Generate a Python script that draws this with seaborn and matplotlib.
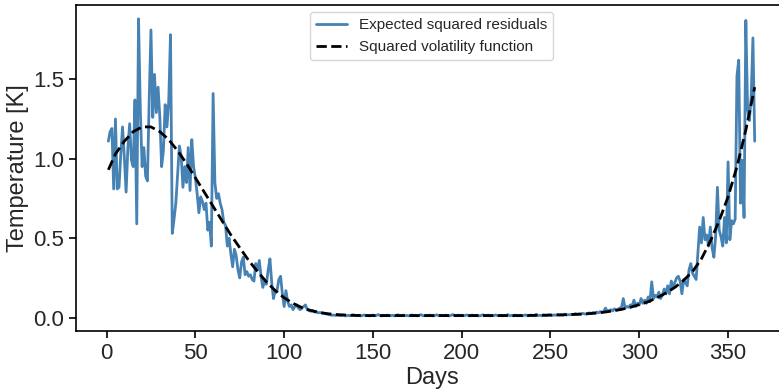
import matplotlib
matplotlib.use("Agg")
import matplotlib.pyplot as plt
import numpy as np
import pandas as pd
import seaborn as sns

sns.set_style("ticks")
plt.rcParams['font.family'] = ['Liberation Sans', 'DejaVu Sans']
NARROW = ['Liberation Sans Narrow', 'Liberation Sans', 'DejaVu Sans']

# expected squared residuals, one value per day (1..365)
residuals_sq = [
    1.11, 1.17, 1.19, 0.81, 1.25, 0.81, 0.82, 1.03, 1.20, 1.01,
    0.79, 1.07, 1.22, 0.99, 0.95, 1.37, 0.59, 1.88, 1.31, 0.95,
    1.07, 0.89, 0.86, 1.37, 1.81, 1.26, 1.53, 1.29, 1.45, 1.26,
    0.95, 1.05, 1.34, 1.20, 1.36, 1.78, 0.53, 0.62, 0.72, 0.90,
    1.08, 1.02, 0.82, 0.95, 0.85, 1.07, 0.80, 1.12, 0.95, 0.88,
    0.78, 0.66, 0.76, 0.73, 0.68, 0.72, 0.55, 0.60, 0.45, 1.41,
    0.85, 0.75, 0.78, 0.72, 0.68, 0.60, 0.58, 0.45, 0.50, 0.40,
    0.32, 0.43, 0.39, 0.30, 0.25, 0.35, 0.38, 0.27, 0.29, 0.26,
    0.27, 0.24, 0.23, 0.34, 0.30, 0.36, 0.26, 0.19, 0.23, 0.21,
    0.30, 0.37, 0.22, 0.12, 0.17, 0.17, 0.24, 0.26, 0.15, 0.07,
    0.17, 0.10, 0.07, 0.08, 0.05, 0.07, 0.08, 0.06, 0.05, 0.06,
    0.07, 0.08, 0.05, 0.045, 0.04, 0.045, 0.035, 0.038, 0.03, 0.032,
    0.03, 0.028, 0.025, 0.022, 0.02, 0.017, 0.015, 0.016, 0.014, 0.015,
    0.014, 0.012, 0.016, 0.013, 0.011, 0.015, 0.012, 0.014, 0.018, 0.013,
    0.012, 0.015, 0.011, 0.013, 0.017, 0.012, 0.014, 0.011, 0.013, 0.016,
    0.012, 0.014, 0.019, 0.013, 0.011, 0.015, 0.012, 0.016, 0.013, 0.012,
    0.015, 0.011, 0.014, 0.018, 0.013, 0.012, 0.016, 0.012, 0.014, 0.011,
    0.013, 0.017, 0.012, 0.015, 0.011, 0.014, 0.019, 0.013, 0.012, 0.015,
    0.012, 0.016, 0.013, 0.011, 0.014, 0.018, 0.012, 0.015, 0.013, 0.012,
    0.016, 0.013, 0.011, 0.015, 0.019, 0.014, 0.012, 0.016, 0.013, 0.015,
    0.012, 0.014, 0.017, 0.011, 0.013, 0.016, 0.012, 0.015, 0.013, 0.011,
    0.014, 0.018, 0.012, 0.013, 0.016, 0.011, 0.014, 0.012, 0.017, 0.013,
    0.012, 0.015, 0.011, 0.014, 0.013, 0.019, 0.012, 0.014, 0.011, 0.016,
    0.013, 0.012, 0.015, 0.011, 0.014, 0.017, 0.012, 0.013, 0.016, 0.012,
    0.014, 0.021, 0.013, 0.015, 0.012, 0.016, 0.014, 0.013, 0.018, 0.015,
    0.014, 0.017, 0.015, 0.020, 0.016, 0.018, 0.015, 0.022, 0.017, 0.019,
    0.018, 0.021, 0.019, 0.025, 0.020, 0.023, 0.021, 0.027, 0.024, 0.022,
    0.026, 0.030, 0.025, 0.032, 0.028, 0.035, 0.030, 0.038, 0.033, 0.040,
    0.060, 0.038, 0.045, 0.050, 0.042, 0.055, 0.048, 0.052, 0.060, 0.065,
    0.120, 0.060, 0.070, 0.065, 0.080, 0.075, 0.110, 0.070, 0.090, 0.080,
    0.120, 0.090, 0.110, 0.090, 0.130, 0.100, 0.225, 0.120, 0.140, 0.130,
    0.160, 0.120, 0.140, 0.180, 0.150, 0.200, 0.150, 0.230, 0.190, 0.220,
    0.25, 0.26, 0.23, 0.15, 0.24, 0.22, 0.20, 0.30, 0.34, 0.28,
    0.26, 0.24, 0.40, 0.57, 0.47, 0.63, 0.49, 0.52, 0.45, 0.57,
    0.44, 0.38, 0.51, 0.82, 0.55, 0.51, 0.45, 0.63, 0.47, 0.98,
    0.49, 0.61, 0.59, 0.62, 1.52, 1.62, 0.72, 0.99, 0.63, 1.87,
    1.31, 1.24, 1.39, 1.76, 1.11,
]
days = list(range(1, 366))

# squared volatility function, sampled every 5 days
vol_days = [1] + list(range(5, 366, 5))
vol_sq = [
    0.93, 1.03, 1.11, 1.17, 1.20, 1.20, 1.17, 1.12, 1.05, 0.97,
    0.88, 0.79, 0.70, 0.61, 0.52, 0.44, 0.36, 0.29, 0.225, 0.17,
    0.125, 0.09, 0.063, 0.045, 0.032, 0.024, 0.019, 0.016, 0.014, 0.013,
    0.013, 0.013, 0.013, 0.013, 0.013, 0.013, 0.013, 0.013, 0.013, 0.013,
    0.013, 0.013, 0.013, 0.013, 0.013, 0.013, 0.013, 0.013, 0.014, 0.015,
    0.016, 0.017, 0.019, 0.021, 0.024, 0.028, 0.034, 0.042, 0.052, 0.065,
    0.082, 0.10, 0.125, 0.155, 0.19, 0.235, 0.29, 0.37, 0.48, 0.61,
    0.76, 0.95, 1.18, 1.45,
]

df_res = pd.DataFrame({'Days': days, 'Value': residuals_sq})
df_vol = pd.DataFrame({'Days': vol_days, 'Value': vol_sq})

fig = plt.figure(figsize=(7.79, 3.91), dpi=100)
ax = fig.add_axes([0.0976, 0.1535, 0.9127, 0.8345])

sns.lineplot(data=df_res, x='Days', y='Value', ax=ax, color='#4682B4',
             linewidth=2.0, label='Expected squared residuals')
sns.lineplot(data=df_vol, x='Days', y='Value', ax=ax, color='black',
             linewidth=2.0, linestyle='--', label='Squared volatility function')

ax.set_xlim(-17.2, 383.2)
ax.set_ylim(-0.084, 1.969)
ax.set_xticks([0, 50, 100, 150, 200, 250, 300, 350])
ax.set_yticks([0.0, 0.5, 1.0, 1.5])
ax.set_xlabel('Days', fontsize=17, family=NARROW, labelpad=2)
ax.set_ylabel('Temperature [K]', fontsize=17, family=NARROW, labelpad=3)
ax.tick_params(labelsize=16, length=5, width=1.2, color='black')
for lbl in ax.get_xticklabels() + ax.get_yticklabels():
    lbl.set_family(NARROW)
for s in ax.spines.values():
    s.set_color('black')
    s.set_linewidth(1.2)

ax.legend(loc='upper center', fontsize=11, frameon=True)

fig.savefig('out.png', dpi=100)
